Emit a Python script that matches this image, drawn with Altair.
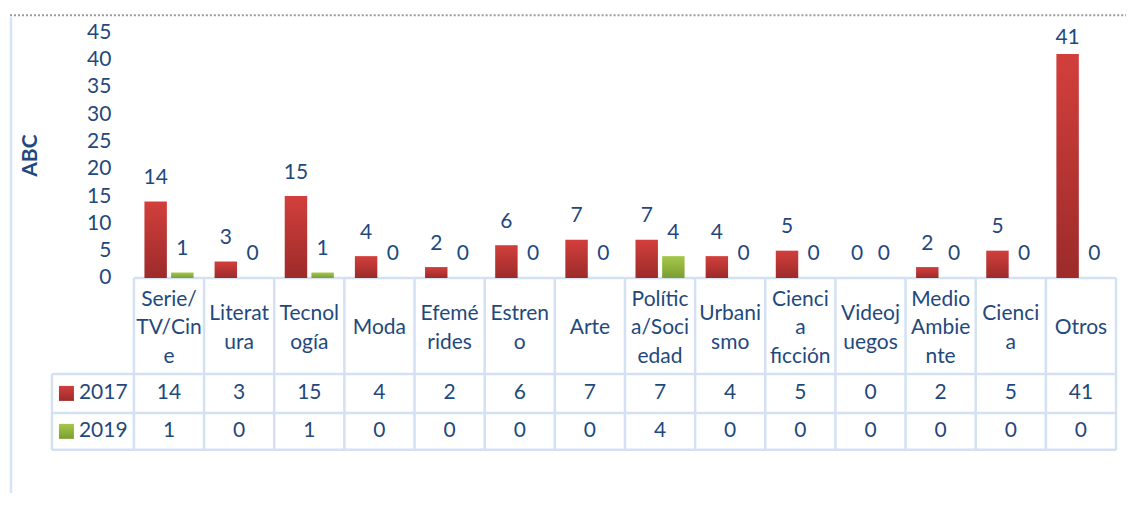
import altair as alt
import pandas as pd

# ---------------- data ----------------
categories = ["Serie/TV/Cine", "Literatura", "Tecnología", "Moda", "Efemérides",
              "Estreno", "Arte", "Política/Sociedad", "Urbanismo", "Ciencia ficción",
              "Videojuegos", "Medio Ambiente", "Ciencia", "Otros"]
category_lines = ["Serie/|TV/Cin|e", "Literat|ura", "Tecnol|ogía", "Moda", "Efemé|rides",
                  "Estren|o", "Arte", "Polític|a/Soci|edad", "Urbani|smo",
                  "Cienci|a|ficción", "Videoj|uegos", "Medio|Ambie|nte", "Cienci|a", "Otros"]
series = ["2017", "2019"]
values_2017 = [14, 3, 15, 4, 2, 6, 7, 7, 4, 5, 0, 2, 5, 41]
values_2019 = [1, 0, 1, 0, 0, 0, 0, 4, 0, 0, 0, 0, 0, 0]
y_ticks = [0, 5, 10, 15, 20, 25, 30, 35, 40, 45]
y_title = "ABC"

# ---------------- layout constants ----------------
FONT = "Lato"
FS = 21
TXT = "#1F497D"
GRID = "#D3E1F3"
NCAT = len(categories)
COL_W = 70.2
W = COL_W * NCAT
H = 246
PX = H / 45.0                      # pixels per value unit
ROW1 = -(96 / PX)                  # header row bottom (value units)
ROW2 = -(135 / PX)
ROW3 = -(172 / PX)
LINE_H = 28.5
HDR_SHIFT = 2.5 / PX
LEG_LEFT = -(82 / COL_W)           # legend column left (column units)
R_LO, R_HI = 0.15, 0.47
G_LO, G_HI = 0.53, 0.85

red_grad = alt.Gradient(gradient="linear", x1=0, y1=0, x2=0, y2=1,
                        stops=[alt.GradientStop(color="#D23F3C", offset=0),
                               alt.GradientStop(color="#9C2B2A", offset=1)])
green_grad = alt.Gradient(gradient="linear", x1=0, y1=0, x2=0, y2=1,
                          stops=[alt.GradientStop(color="#A5C84A", offset=0),
                                 alt.GradientStop(color="#7C9E32", offset=1)])

xs = alt.Scale(domain=[0, NCAT], nice=False, zero=False)
ys = alt.Scale(domain=[0, 45], nice=False)
yaxis = alt.Axis(values=y_ticks, title=y_title, grid=False, domain=False, ticks=False,
                 labelPadding=23, labelFont=FONT, labelFontSize=FS, labelColor=TXT,
                 titleFont=FONT, titleFontSize=21, titleFontWeight="bold",
                 titleColor=TXT, titlePadding=46)

def X(f):
    return alt.X(f, type="quantitative", scale=xs, axis=None)

def Y(f):
    return alt.Y(f, type="quantitative", scale=ys, axis=yaxis)

# bar data per series
df17 = pd.DataFrame({"idx": list(range(NCAT)), "v": values_2017,
                     "xa": [i + R_LO for i in range(NCAT)], "xb": [i + R_HI for i in range(NCAT)]})
df19 = pd.DataFrame({"idx": list(range(NCAT)), "v": values_2019,
                     "xa": [i + G_LO for i in range(NCAT)], "xb": [i + G_HI for i in range(NCAT)]})
for d in (df17, df19):
    d["z"] = 0

def bars(d, grad):
    return alt.Chart(d).mark_bar(color=grad).encode(x=X("xa"), x2="xb", y=Y("v"), y2="z")

def bar_labels(d):
    return alt.Chart(d).transform_calculate(
        xm="(datum.xa + datum.xb) / 2",
        yl=f"min(datum.v + {17.5 / PX}, {45 - 12 / PX})"
    ).mark_text(font=FONT, fontSize=FS, color=TXT, baseline="alphabetic").encode(
        x=X("xm"), y=Y("yl"), text=alt.Text("v", type="quantitative"))

# table grid lines
lines = []
for k in range(NCAT + 1):
    lines.append({"x": k, "x2": k, "y": 0, "y2": ROW3})
lines.append({"x": LEG_LEFT, "x2": LEG_LEFT, "y": ROW1, "y2": ROW3})
lines.append({"x": 0, "x2": NCAT, "y": 0, "y2": 0})
for r in (ROW1, ROW2, ROW3):
    lines.append({"x": LEG_LEFT, "x2": NCAT, "y": r, "y2": r})
grid = alt.Chart(pd.DataFrame(lines)).mark_rule(color=GRID, strokeWidth=2.5).encode(
    x=X("x"), x2="x2", y=Y("y"), y2="y2")

# header cells (multi-line text block centred in the header row)
nlines = [len(s.split("|")) for s in category_lines]
hdr = pd.DataFrame({"lbl": category_lines,
                    "xm": [i + 0.5 for i in range(NCAT)],
                    "ym": [ROW1 / 2 - HDR_SHIFT + (n - 1) / 2 * LINE_H / PX for n in nlines]})
header = alt.Chart(hdr).mark_text(
    font=FONT, fontSize=FS, color=TXT, baseline="middle", lineHeight=LINE_H, lineBreak="|"
).encode(x=X("xm"), y=Y("ym"), text=alt.Text("lbl", type="nominal"))

# value rows
cell_rows = []
for i in range(NCAT):
    cell_rows.append({"xm": i + 0.5, "ym": (ROW1 + ROW2) / 2, "v": values_2017[i]})
    cell_rows.append({"xm": i + 0.5, "ym": (ROW2 + ROW3) / 2, "v": values_2019[i]})
cells = alt.Chart(pd.DataFrame(cell_rows)).mark_text(
    font=FONT, fontSize=FS, color=TXT, baseline="middle").encode(
    x=X("xm"), y=Y("ym"), text=alt.Text("v", type="quantitative"))

# legend column
sw_h = 7.5 / PX
leg = pd.DataFrame({"series": series,
                    "ym": [(ROW1 + ROW2) / 2, (ROW2 + ROW3) / 2]})
leg["ya"] = leg["ym"] + sw_h
leg["yb"] = leg["ym"] - sw_h
leg["xa"] = LEG_LEFT + 7 / COL_W
leg["xb"] = LEG_LEFT + 22 / COL_W
leg["xt"] = LEG_LEFT + 27 / COL_W

def swatch(s, grad):
    return alt.Chart(leg[leg["series"] == s]).mark_rect(color=grad).encode(
        x=X("xa"), x2="xb", y=Y("ya"), y2="yb")

leg_text = alt.Chart(leg).mark_text(
    font=FONT, fontSize=FS, color=TXT, baseline="middle", align="left").encode(
    x=X("xt"), y=Y("ym"), text=alt.Text("series", type="nominal"))

# chart-area border decorations
deco = pd.DataFrame({"a": [0]})
top_border = alt.Chart(deco).mark_rule(
    color="#9A9A9A", strokeWidth=2, strokeDash=[2, 2]
).encode(x=alt.value(-128), x2=alt.value(1010), y=alt.value(-17))
left_border = alt.Chart(deco).mark_rule(
    color="#D6E4F5", strokeWidth=2.5
).encode(x=alt.value(-123), y=alt.value(-15), y2=alt.value(480))

chart = alt.layer(
    top_border, left_border, grid,
    bars(df17, red_grad), bars(df19, green_grad),
    bar_labels(df17), bar_labels(df19),
    header, cells, swatch("2017", red_grad), swatch("2019", green_grad), leg_text,
).properties(
    width=W, height=H,
    autosize=alt.AutoSizeParams(type="none"),
    padding={"left": 126, "top": 24, "right": 10, "bottom": 215},
).configure_view(strokeWidth=0)

chart.save("out.html", embed_options={"renderer": "svg", "actions": False})
